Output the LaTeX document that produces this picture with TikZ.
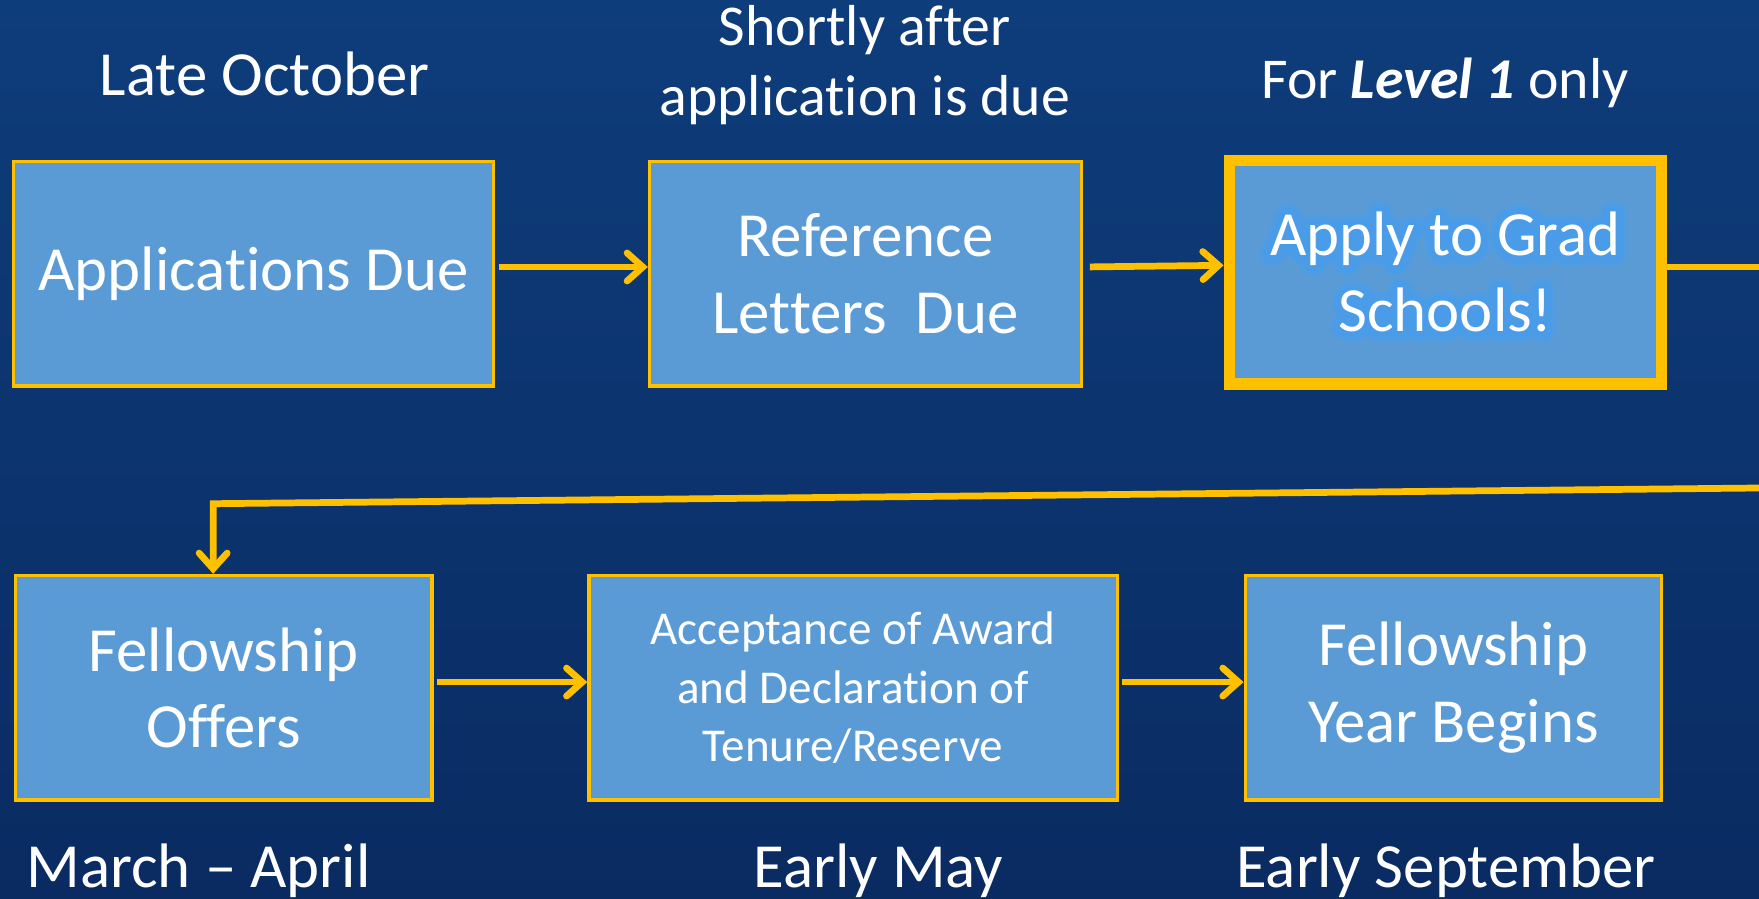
\documentclass[tikz,border=0pt]{standalone}
\usepackage{fontspec}
\setmainfont[Ligatures=NoCommon]{Carlito}
\newfontfamily\glowfont[Ligatures=NoCommon,FakeBold=14]{Carlito}
\usetikzlibrary{arrows.meta,positioning}
\definecolor{gold}{HTML}{FFC000}
\definecolor{boxblue}{HTML}{5B9BD5}
\definecolor{bgtop}{HTML}{0E3D7B}
\definecolor{bgbot}{HTML}{0A2B62}
\definecolor{glowblue}{HTML}{4A9FEC}
\newcommand{\bigsize}{\fontsize{56}{68}\selectfont}
\newcommand{\midsize}{\fontsize{51.5}{62.5}\selectfont}
\newcommand{\smallsize}{\fontsize{42}{52}\selectfont}
\newcommand{\gradtext}{Apply to Grad\\Schools!}
\begin{document}
\begin{tikzpicture}[x=1pt,y=-1pt,
  box/.style={draw=gold, line width=3pt, fill=boxblue, text=white, align=center, inner sep=0pt, minimum width=#1, minimum height=200pt, font=\bigsize},
  lbl/.style={text=white, align=center, inner sep=0pt, font=\bigsize},
  glow/.style={lbl, text=glowblue, font=\glowfont\bigsize, opacity=0.3},
  arr/.style={draw=gold, line width=6pt, -{Straight Barb[length=14pt,width=25pt,line cap=round]}}]
  \useasboundingbox (0,0) rectangle (1568,800.5);
  \shade[top color=bgtop, bottom color=bgbot] (0,0) rectangle (1568,800.5);
  % top row
  \node[box=428pt] (AppDue) at (226,244) {Applications Due};
  \node[box=385pt] (RefDue) at (771.5,244) {Reference\\Letters\ \ Due};
  \node[box=385pt, line width=10.5pt, minimum height=199pt] (GradApp) at (1288.5,242.5) {};
  \foreach \r in {3,6}
    \foreach \a in {0,45,...,315}
      \node[glow] at ([shift={(\a:\r pt)}]GradApp.center) {\gradtext};
  \node[lbl] at (GradApp.center) {\gradtext};
  % bottom row
  \node[box=371pt] (Offers) at (199.5,613) {Fellowship\\Offers};
  \node[box=471pt, font=\smallsize] (Accept) at (760.5,613) {Acceptance of Award\\and Declaration of\\Tenure/Reserve};
  \node[box=371pt] (YearBegins) at (1295.5,613) {Fellowship\\Year Begins};
  % dates
  \node[lbl, anchor=base] (LateOct) at (236,85) {Late October};
  \node[lbl, font=\midsize] (Shortly) at (771,58) {Shortly after\\application is due};
  \node[lbl, font=\midsize, anchor=base] (LevelOne) at (1288,88) {For \textbf{\textit{Level 1}} only};
  \node[lbl, anchor=base] (MarApr) at (177,791) {March -- April};
  \node[lbl, anchor=base] (EarlyMay) at (783,791) {Early May};
  \node[lbl, anchor=base] (EarlySep) at (1289,791) {Early September};
  % connectors
  \coordinate (OutR) at (1568,238);
  \coordinate (BackR) at (1568,435);
  \coordinate (BackL) at (190,449);
  \draw[arr, shorten <=3pt] ([yshift=6pt]AppDue.east) -- ([yshift=6pt]RefDue.west);
  \draw[arr, shorten <=6pt] ([yshift=6pt]RefDue.east) -- ([yshift=6pt]GradApp.west);
  \draw[draw=gold, line width=6pt] ([yshift=4.5pt]GradApp.east) -- (OutR);
  \draw[arr] (BackR) -- (BackL) -- (BackL |- Offers.north);
  \draw[arr, shorten <=3pt] ([yshift=5pt]Offers.east) -- ([yshift=5pt]Accept.west);
  \draw[arr, shorten <=3pt] ([yshift=5pt]Accept.east) -- ([yshift=5pt]YearBegins.west);
\end{tikzpicture}
\end{document}
